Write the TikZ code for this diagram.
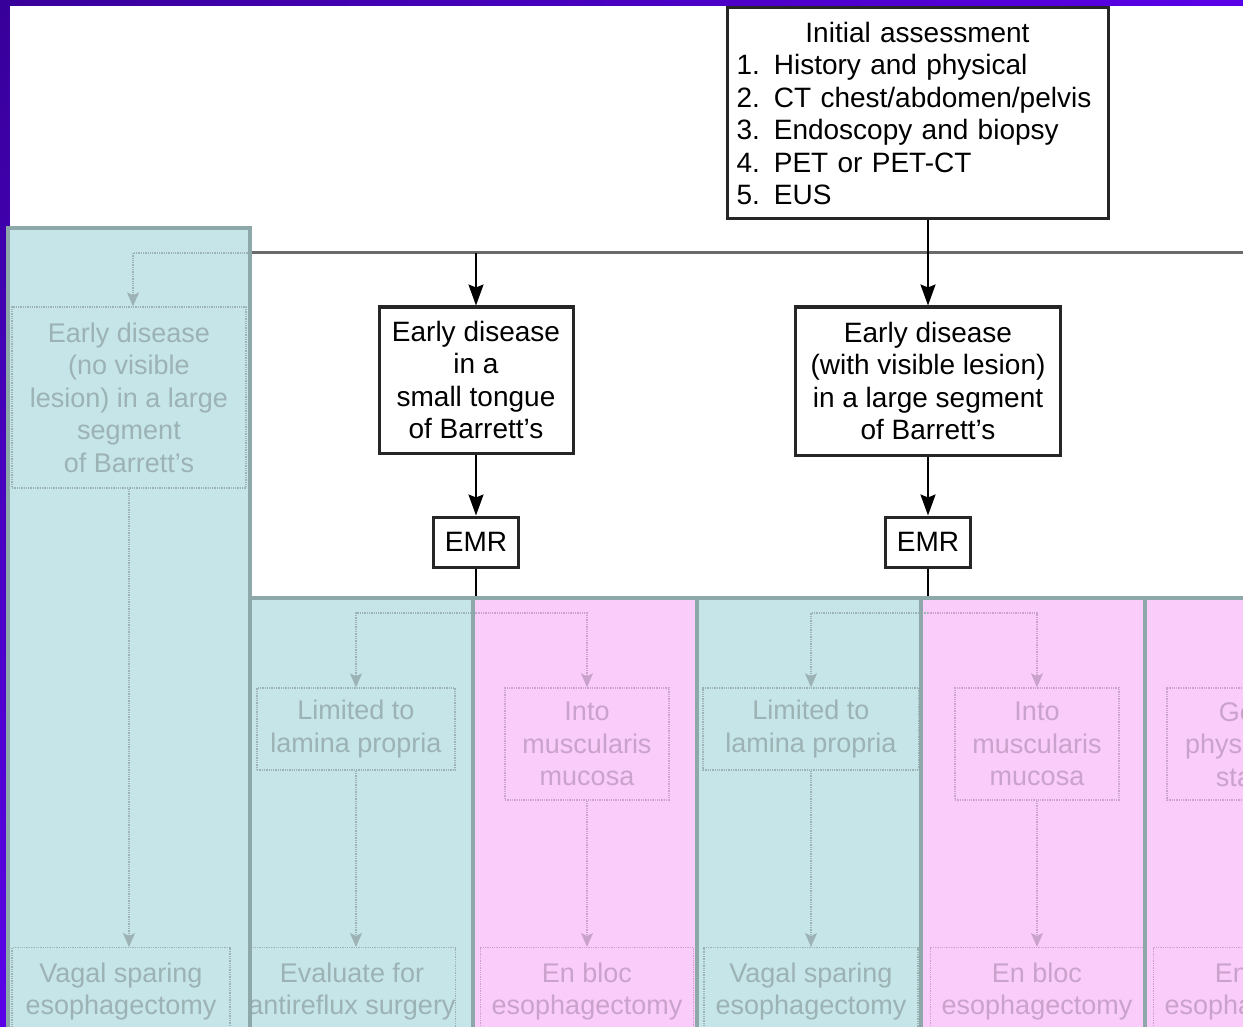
\documentclass[tikz,border=0pt]{standalone}
\usepackage{fontspec}
\setmainfont{Liberation Sans}
\usepackage{xcolor}
\usetikzlibrary{arrows.meta, positioning, calc}

\definecolor{framedark}{HTML}{38009A}
\definecolor{framelight}{HTML}{5A00E8}
\definecolor{panelteal}{HTML}{C6E5E8}
\definecolor{panelpink}{HTML}{FACCFA}
\definecolor{panelrule}{HTML}{8EA8AA}
\definecolor{fadeteal}{HTML}{9CB2B5}
\definecolor{fadepink}{HTML}{C9A3CB}
\definecolor{busgray}{HTML}{6A6A6A}

\tikzset{
  flowbox/.style={draw=black!85, line width=3pt, fill=white, align=center,
    inner sep=0pt, font=\fontsize{28}{32.5}\selectfont},
  flowarrow/.style={-{Stealth[length=21pt, width=15pt, inset=3pt]}, line width=2pt},
  ghostbox/.style={draw=#1, densely dotted, line width=1.3pt, text=#1, align=center,
    inner sep=0pt, font=\fontsize{27}{32.5}\selectfont},
  ghostarrow/.style={draw=#1, densely dotted, line width=1.3pt,
    -{Stealth[length=14pt, width=12pt, inset=3pt, fill=#1]}},
  ghostline/.style={draw=#1, densely dotted, line width=1.3pt}
}

\begin{document}
\begin{tikzpicture}[x=1pt, y=-1pt]
\useasboundingbox (0,0) rectangle (1243,1027);
\clip (0,0) rectangle (1243,1027);

% Frame
\fill[left color=framedark, right color=framelight] (0,0) rectangle (1243,6);
\fill[top color=framedark, bottom color=framelight] (0,0) rectangle (10,1027);
\fill[white] (10,6) rectangle (1243,1027);

% Main flow
\node[flowbox, text width=362pt, align=left, inner xsep=9.5pt, minimum height=211pt] (init) at (917.5,113.5)
  {\makebox[\linewidth]{Initial assessment}\\
   1. History and physical\\
   2. CT chest/abdomen/pelvis\\
   3. Endoscopy and biopsy\\
   4. PET or PET-CT\\
   5. EUS};

\coordinate (busL) at (250,253);
\coordinate (busR) at (1243,253);
\draw[busgray, line width=3pt] (busL) -- (busR);

\node[flowbox, minimum width=194pt, minimum height=146pt] (tongue) at (476,380)
  {Early disease\\in a\\small tongue\\of Barrett's};
\node[flowbox, minimum width=265pt, minimum height=148pt] (segment) at (928,381)
  {Early disease\\(with visible lesion)\\in a large segment\\of Barrett's};
\node[flowbox, minimum width=85pt, minimum height=50pt] (emrA) at (476,542) {EMR};
\node[flowbox, minimum width=85pt, minimum height=50pt] (emrB) at (928,542) {EMR};

\draw[flowarrow] (busL -| tongue.north) -- (tongue.north);
\draw[flowarrow] (init.south -| segment.north) -- (segment.north);
\draw[flowarrow] (tongue.south) -- (emrA.north);
\draw[flowarrow] (segment.south) -- (emrB.north);

\coordinate (forkA) at (476,613);
\coordinate (forkB) at (928,613);
\draw[line width=2pt] (emrA.south) -- (forkA);
\draw[line width=2pt] (emrB.south) -- (forkB);

% Panels
\fill[panelteal] (8,228) rectangle (250,1040);
\foreach \xa/\xb/\col in {250/473/panelteal, 473/697/panelpink, 697/921/panelteal, 921/1145/panelpink, 1145/1250/panelpink}
  \fill[\col] (\xa,598) rectangle (\xb,1040);

% Faded branch, left
\node[ghostbox=fadeteal, minimum width=234pt, minimum height=181pt] (noLesion) at (129,397.5)
  {Early disease\\(no visible\\lesion) in a large\\segment\\of Barrett's};
\node[ghostbox=fadeteal, minimum width=218pt, minimum height=88pt, anchor=north] (vagalA) at (121,947)
  {Vagal sparing\\esophagectomy};
\coordinate (turnL) at (133,253);
\draw[ghostline=fadeteal] (busL) -- (turnL);
\draw[ghostarrow=fadeteal] (turnL) -- (turnL |- noLesion.north);
\draw[ghostarrow=fadeteal] (noLesion.south) -- (noLesion.south |- vagalA.north);

% Faded branches, bottom
\node[ghostbox=fadeteal, minimum width=198pt, minimum height=82pt] (laminaA) at (356,729) {Limited to\\lamina propria};
\node[ghostbox=fadepink, minimum width=164pt, minimum height=112pt] (mucosaA) at (587,744) {Into\\muscularis\\mucosa};
\node[ghostbox=fadeteal, minimum width=216pt, minimum height=82pt] (laminaB) at (811,729) {Limited to\\lamina propria};
\node[ghostbox=fadepink, minimum width=164pt, minimum height=112pt] (mucosaB) at (1037,744) {Into\\muscularis\\mucosa};
\node[ghostbox=fadepink, minimum width=170pt, minimum height=112pt] (status) at (1252,744) {Good\\physiologic\\status};

\node[ghostbox=fadeteal, minimum width=203pt, minimum height=88pt, anchor=north] (antireflux) at (352,947) {Evaluate for\\antireflux surgery};
\node[ghostbox=fadepink, minimum width=213pt, minimum height=88pt, anchor=north] (enblocA) at (587,947) {En bloc\\esophagectomy};
\node[ghostbox=fadeteal, minimum width=214pt, minimum height=88pt, anchor=north] (vagalB) at (811,947) {Vagal sparing\\esophagectomy};
\node[ghostbox=fadepink, minimum width=213pt, minimum height=88pt, anchor=north] (enblocB) at (1037,947) {En bloc\\esophagectomy};
\node[ghostbox=fadepink, minimum width=213pt, minimum height=88pt, anchor=north] (enblocC) at (1260,947) {En bloc\\esophagectomy};

\draw[ghostarrow=fadeteal] (forkA) -- (forkA -| laminaA.north) -- (laminaA.north);
\draw[ghostarrow=fadepink] (forkA) -- (forkA -| mucosaA.north) -- (mucosaA.north);
\draw[ghostarrow=fadeteal] (forkB) -- (forkB -| laminaB.north) -- (laminaB.north);
\draw[ghostarrow=fadepink] (forkB) -- (forkB -| mucosaB.north) -- (mucosaB.north);

\draw[ghostarrow=fadeteal] (laminaA.south) -- (laminaA.south |- antireflux.north);
\draw[ghostarrow=fadepink] (mucosaA.south) -- (mucosaA.south |- enblocA.north);
\draw[ghostarrow=fadeteal] (laminaB.south) -- (laminaB.south |- vagalB.north);
\draw[ghostarrow=fadepink] (mucosaB.south) -- (mucosaB.south |- enblocB.north);

% Panel rules
\draw[panelrule, line width=4pt] (8,1040) -- (8,228) -- (250,228) -- (250,1040);
\draw[panelrule, line width=4pt] (250,598) -- (1250,598);
\foreach \x in {473,697,921,1145}
  \draw[panelrule, line width=4pt] (\x,598) -- (\x,1040);

\end{tikzpicture}
\end{document}
